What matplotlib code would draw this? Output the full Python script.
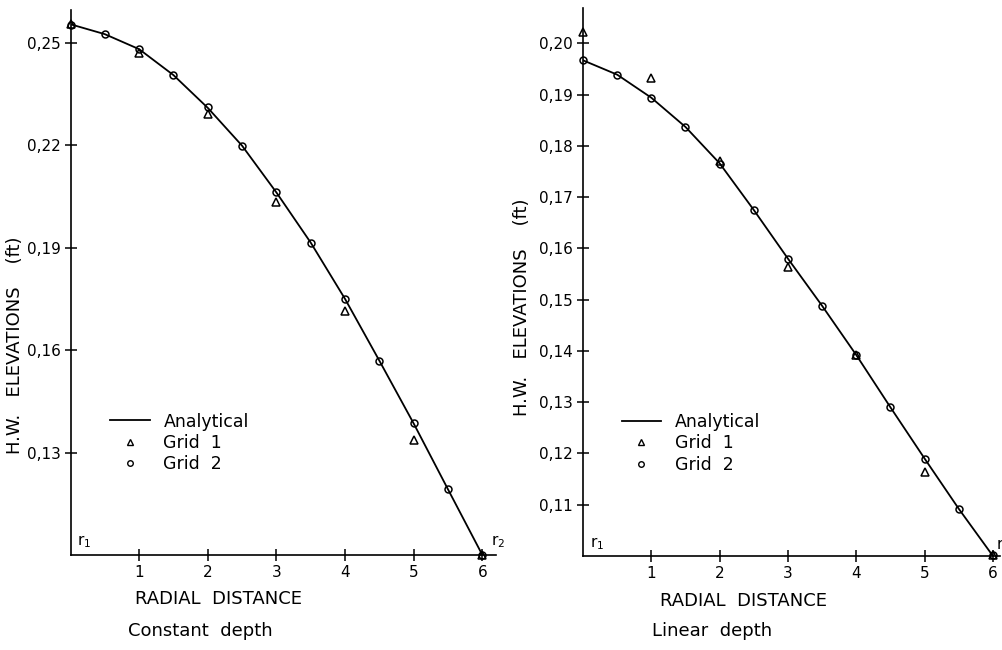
import matplotlib
matplotlib.use("Agg")
import matplotlib.pyplot as plt
from matplotlib.lines import Line2D
from matplotlib.ticker import FuncFormatter

# ---------------- data ----------------
x_line = [0, 0.5, 1, 1.5, 2, 2.5, 3, 3.5, 4, 4.5, 5, 5.5, 6]
x_grid1 = [0, 1, 2, 3, 4, 5, 6]
x_grid2 = [0, 0.5, 1, 1.5, 2, 2.5, 3, 3.5, 4, 4.5, 5, 5.5, 6]

# Constant depth
const_analytical = [0.2555, 0.2526, 0.2482, 0.2406, 0.2310, 0.2199, 0.2062,
                    0.1915, 0.1750, 0.1569, 0.1385, 0.1192, 0.1000]
const_grid1 = [0.2555, 0.2471, 0.2292, 0.2035, 0.1716, 0.1338, 0.1000]
const_grid2 = [0.2553, 0.2526, 0.2482, 0.2406, 0.2313, 0.2199, 0.2064,
               0.1915, 0.1751, 0.1569, 0.1388, 0.1192, 0.1000]
const_yticks = [0.13, 0.16, 0.19, 0.22, 0.25]

# Linear depth
lin_analytical = [0.1967, 0.1939, 0.1894, 0.1837, 0.1766, 0.1675, 0.1580,
                  0.1488, 0.1392, 0.1290, 0.1190, 0.1092, 0.1000]
lin_grid1 = [0.2022, 0.1933, 0.1771, 0.1563, 0.1392, 0.1163, 0.1002]
lin_grid2 = [0.1967, 0.1939, 0.1894, 0.1837, 0.1765, 0.1675, 0.1580,
             0.1488, 0.1392, 0.1290, 0.1190, 0.1092, 0.1002]
lin_yticks = [0.11, 0.12, 0.13, 0.14, 0.15, 0.16, 0.17, 0.18, 0.19, 0.20]

xticks = [1, 2, 3, 4, 5, 6]

plt.rcParams['font.family'] = ['DejaVu Sans']

fig = plt.figure(figsize=(10.02, 6.5), dpi=100)
ax1 = fig.add_axes([0.0704, 0.1462, 0.4247, 0.8385])
ax2 = fig.add_axes([0.5818, 0.1446, 0.4160, 0.8431])

fmt = FuncFormatter(lambda v, p: ("%.2f" % v).replace(".", ","))


def style(ax, ylim, yticks, xlim, xlab_x, ylab_y):
    ax.set_xlim(*xlim)
    ax.set_ylim(*ylim)
    ax.set_xticks(xticks)
    ax.set_yticks(yticks)
    ax.yaxis.set_major_formatter(fmt)
    for s in ['top', 'right']:
        ax.spines[s].set_visible(False)
    for s in ['left', 'bottom']:
        ax.spines[s].set_linewidth(1.2)
    ax.tick_params(direction='inout', length=8, width=1.1, labelsize=11, pad=3)
    ax.set_xlabel("RADIAL  DISTANCE", fontsize=13, labelpad=6)
    ax.xaxis.set_label_coords(xlab_x, -0.065)
    ax.set_ylabel("H.W.   ELEVATIONS    (ft)", fontsize=13)
    ax.yaxis.set_label_coords(-0.11, ylab_y)


def draw(ax, ana, g1, g2):
    ax.plot(x_line, ana, color='black', lw=1.3, zorder=2)
    ax.plot(x_grid1, g1, linestyle='none', marker='^', markersize=6,
            markerfacecolor='none', markeredgecolor='black', markeredgewidth=1.1,
            clip_on=False, zorder=3)
    ax.plot(x_grid2, g2, linestyle='none', marker='o', markersize=5,
            markerfacecolor='none', markeredgecolor='black', markeredgewidth=1.1,
            clip_on=False, zorder=3)
    handles = [Line2D([], [], color='black', lw=1.3),
               Line2D([], [], linestyle='none', marker='^', markersize=5,
                      markerfacecolor='none', markeredgecolor='black'),
               Line2D([], [], linestyle='none', marker='o', markersize=4,
                      markerfacecolor='none', markeredgecolor='black')]
    ax.legend(handles, ["Analytical", "Grid  1", "Grid  2"], frameon=False,
              fontsize=12.5, loc='upper left', bbox_to_anchor=(0.055, 0.29),
              handlelength=2.3, handletextpad=0.8, labelspacing=0.2)


draw(ax1, const_analytical, const_grid1, const_grid2)
style(ax1, (0.10, 0.2597), const_yticks, (0, 6.2), 0.347, 0.385)
ax1.text(0.1, 0.1015, "r$_1$", fontsize=11, ha='left', va='bottom')
ax1.text(6.12, 0.1015, "r$_2$", fontsize=11, ha='left', va='bottom')

draw(ax2, lin_analytical, lin_grid1, lin_grid2)
style(ax2, (0.10, 0.2069), lin_yticks, (0, 6.1), 0.384, 0.454)
ax2.yaxis.set_label_coords(-0.125, 0.454)
ax2.text(0.1, 0.1008, "r$_1$", fontsize=11, ha='left', va='bottom')
ax2.text(6.05, 0.1008, "r", fontsize=11, ha='left', va='bottom', clip_on=False)

fig.text(0.128, 0.015, "Constant  depth", fontsize=13, ha='left', va='bottom')
fig.text(0.651, 0.015, "Linear  depth", fontsize=13, ha='left', va='bottom')

fig.savefig("out.png", dpi=100)
